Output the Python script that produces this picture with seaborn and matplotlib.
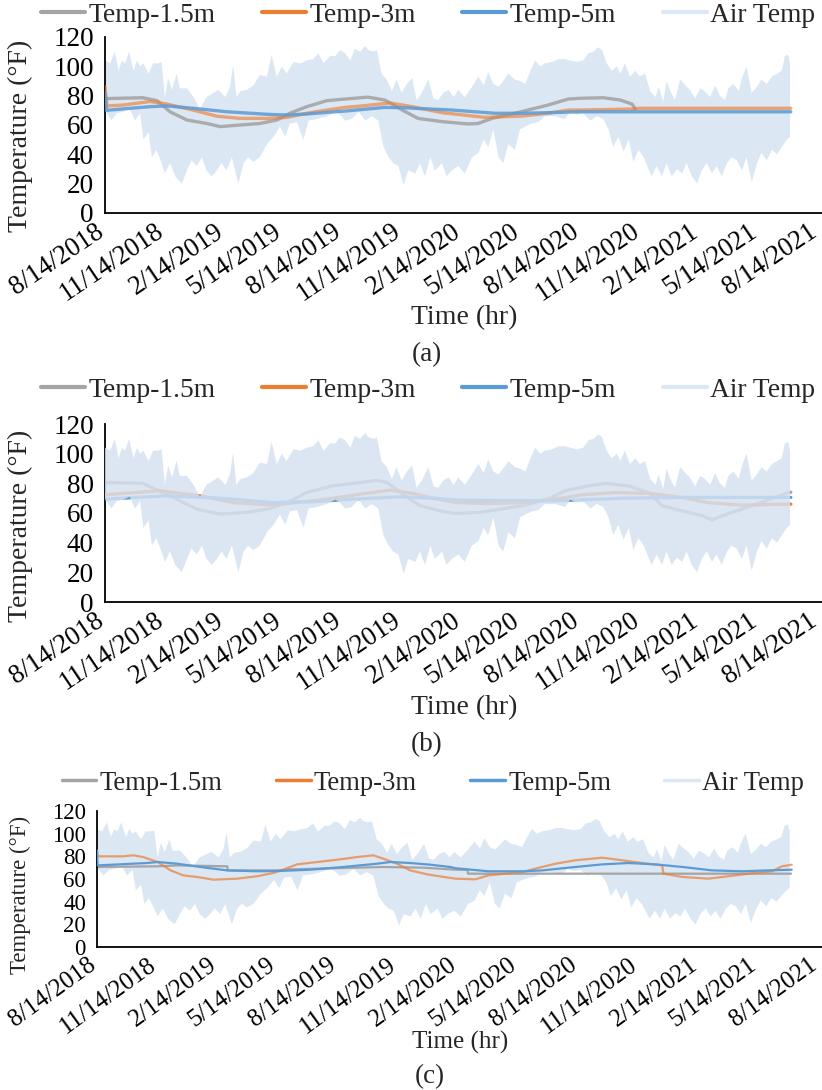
import numpy as np
import pandas as pd
import matplotlib
matplotlib.use("Agg")
import matplotlib.pyplot as plt
import matplotlib.dates as mdates
import matplotlib.font_manager as fm
from matplotlib.lines import Line2D
import seaborn as sns

# ---------------- data ----------------
START = "2018-08-14"
series_names = ["Temp-1.5m", "Temp-3m", "Temp-5m", "Air Temp"]
tick_labels = ["8/14/2018", "11/14/2018", "2/14/2019", "5/14/2019", "8/14/2019",
               "11/14/2019", "2/14/2020", "5/14/2020", "8/14/2020", "11/14/2020",
               "2/14/2021", "5/14/2021", "8/14/2021"]
y_ticks = [0, 20, 40, 60, 80, 100, 120]
panel_tags = ["(a)", "(b)", "(c)"]

# Air temperature envelope (days since 8/14/2018, degF)
air_hi_day = [0, 8, 15, 21, 26, 31, 37, 44, 49, 54, 59, 67, 74, 82, 87, 92, 97, 103, 110, 115,
              126, 131, 136, 146, 156, 167, 174, 185, 192, 197, 202, 208, 218, 228, 238, 249, 256, 264, 272, 279,
              290, 300, 310, 320, 328, 336, 346,
              354, 361, 369, 377, 384, 392, 400, 405, 413, 418, 425, 433, 441, 448, 456, 464, 472, 479, 487, 497,
              505, 512, 520, 528, 536, 543, 553, 564, 574, 582, 589, 597, 605, 612, 620, 630, 638, 646, 653, 661,
              669, 676, 687, 697, 707,
              715, 725, 735, 743, 751, 758, 764, 771, 779, 787, 792, 799, 807, 815, 822, 830, 838, 846, 851, 858,
              863, 869, 876, 884, 892, 899, 907, 915, 922, 930, 938, 945, 953, 958, 966, 974, 979, 986, 994, 1002,
              1009, 1017, 1025, 1033, 1040, 1045, 1050, 1053]
air_hi = [104, 102, 110, 97, 104, 102, 110, 97, 104, 100, 102, 95, 102, 102, 103, 79, 92, 84, 95, 85,
          85, 82, 79, 71, 79, 82, 84, 79, 86, 101, 79, 83, 84, 87, 94, 93, 108, 93, 100, 95,
          103, 102, 104, 105, 109, 102, 107,
          107, 111, 109, 104, 112, 110, 114, 111, 110, 111, 95, 91, 83, 91, 82, 88, 92, 77, 82, 91,
          78, 77, 82, 84, 79, 84, 79, 86, 93, 87, 96, 88, 86, 90, 95, 91, 90, 88, 96, 104,
          100, 102, 103, 105, 105,
          104, 103, 104, 109, 110, 113, 111, 102, 97, 100, 95, 102, 93, 97, 93, 95, 83, 79, 86, 76,
          90, 83, 77, 91, 87, 84, 78, 85, 83, 79, 87, 80, 77, 85, 88, 83, 92, 100, 82, 86,
          91, 88, 93, 95, 97, 107, 108, 102]
air_lo_day = [0, 10, 18, 28, 38, 46, 54, 59, 67, 72, 79, 87, 92, 100, 108, 118, 126, 133, 141, 149,
              156, 164, 172, 179, 187, 195, 205, 213, 220, 228, 238, 249, 259, 269, 277, 284, 295, 305, 313, 325,
              341,
              354, 361, 369, 379, 390, 400, 410, 420, 428, 436, 443, 451, 459, 466, 477, 484, 492, 500, 507, 518,
              525, 533, 543, 553, 564, 574, 582, 589, 597, 605, 612, 620, 630, 638, 646, 656, 666, 676, 692, 707,
              715, 725, 735, 746, 756, 766, 774, 781, 789, 797, 805, 812, 820, 828, 840, 848, 856, 863, 871, 879,
              887, 894, 902, 910, 917, 925, 933, 940, 948, 956, 963, 971, 979, 986, 994, 1002, 1009, 1017, 1025, 1033,
              1040, 1048, 1053]
air_lo = [70, 63, 68, 69, 71, 63, 68, 50, 55, 38, 43, 34, 27, 34, 25, 20, 29, 36, 32, 38,
          29, 25, 29, 34, 29, 38, 20, 34, 38, 35, 38, 47, 52, 59, 52, 61, 62, 50, 63, 64,
          66,
          69, 67, 63, 64, 69, 63, 66, 63, 45, 38, 34, 32, 19, 29, 27, 34, 25, 38, 29, 34,
          25, 29, 32, 27, 38, 41, 50, 45, 57, 38, 34, 47, 43, 57, 59, 61, 62, 66, 66, 64,
          69, 67, 68, 63, 66, 64, 57, 45, 52, 42, 50, 35, 43, 38, 25, 32, 25, 34, 25, 30,
          27, 34, 25, 20, 29, 34, 27, 32, 25, 34, 38, 36, 29, 38, 21, 34, 41, 36, 43, 40,
          45, 50, 52]

# Panel (a)
a15_day = [0, 58, 80, 100, 126, 157, 177, 208, 238, 264, 284, 310, 341, 369, 404, 430, 457, 481, 518, 558,
           573, 595, 630, 681, 712, 730, 766, 792, 810, 815]
a15 = [78, 78.6, 76.6, 69, 63.4, 61, 58.9, 60, 61, 63.4, 68, 72.5, 76.6, 77.7, 79, 77, 70.2, 64.5, 62.3, 60.7,
       61, 64.5, 68, 73.6, 77.7, 78.2, 78.6, 77, 74.3, 71]
a3_day = [0, 3, 28, 69, 95, 135, 172, 208, 249, 280, 310, 341, 369, 395, 438, 472, 518, 584, 641, 681,
          712, 730, 810, 822, 1054]
a3 = [86, 73, 73.6, 76, 74.3, 70.2, 66, 64.5, 64.5, 65.2, 68, 70.2, 72, 73, 75, 72.5, 68.4, 65.2, 66.1, 68,
      70.2, 70.2, 70.9, 71.4, 71.4]
a5_day = [0, 2, 69, 95, 135, 188, 249, 280, 310, 341, 369, 430, 457, 533, 600, 641, 681, 730, 1054]
a5 = [82, 70, 72.5, 73, 71.4, 69, 67.3, 66.8, 67.5, 68.6, 69.5, 72, 71.8, 70.2, 68, 68, 68.4, 69, 69]

# Panel (b)
b15_day = [0, 58, 105, 141, 177, 218, 249, 280, 310, 350, 392, 418, 434, 454, 484, 515, 538, 576, 641, 681,
           707, 743, 769, 804, 838, 856, 887, 918, 933, 949, 979, 1015, 1050, 1054]
b15 = [80.5, 80, 70.5, 62.6, 59.3, 60.4, 62.6, 67, 73.8, 78.3, 80.5, 82, 80.5, 73.8, 64.9, 61.5, 59.7, 60.4, 64.9, 69.4,
       75, 78.3, 80, 78.3, 73.2, 64.9, 61.5, 58.2, 55.3, 58.2, 62.6, 68.2, 73.8, 74]
b3_day = [0, 85, 146, 197, 249, 280, 341, 392, 438, 473, 504, 538, 589, 641, 692, 733, 784, 838, 887, 927,
          979, 1050, 1054]
b3 = [72.3, 75, 71.6, 67, 65.5, 66.4, 69.4, 72.7, 75.4, 73.2, 70, 67, 66.4, 67, 69.4, 72.3, 73.8, 73.2, 70.5, 67,
      65.3, 66, 66]
b5_day = [0, 95, 177, 258, 320, 381, 454, 504, 546, 692, 795, 896, 1054]
b5 = [69.4, 71.6, 70, 67, 67.6, 69.4, 70.9, 70, 68.6, 68.2, 70, 70.5, 70.5]

# Panel (c)
c15_day = [0, 92, 122, 198, 199, 274, 294, 435, 496, 545, 563, 564, 1055]
c15 = [70.6, 71.2, 72, 71.2, 67.6, 67.6, 68.5, 70.6, 70, 68.2, 68, 64.7, 64.7]
c3_day = [0, 1, 40, 55, 70, 92, 112, 131, 152, 177, 213, 243, 268, 283, 304, 335, 365, 396, 420, 431,
          456, 476, 502, 527, 545, 575, 595, 647, 666, 697, 727, 768, 792, 829, 859, 861, 890, 929, 959, 1000,
          1026, 1041, 1056]
c3 = [85, 80, 80, 80.9, 79.4, 75, 67.6, 63.2, 61.8, 59.4, 60.3, 62.4, 65.3, 68.2, 72.9, 75, 77, 79.4, 80.9, 78.8,
      73.5, 67.6, 64.1, 61.8, 60.3, 59.7, 63.2, 66.2, 69.1, 73.5, 76.5, 78.8, 77, 74.1, 72, 64.7, 61.8, 60.3, 62.4, 65.3,
      66.8, 71.2, 72.6]
c5_day = [0, 1, 76, 92, 122, 157, 198, 243, 274, 324, 374, 426, 446, 476, 507, 537, 545, 595, 647, 677,
          727, 768, 808, 849, 890, 935, 981, 1020, 1056]
c5 = [85, 72, 74.1, 75, 73.5, 70.6, 67.6, 66.8, 67, 68.2, 70.6, 73.5, 75, 74.1, 72.6, 70.6, 69.5, 66.8, 66.8, 67.6,
      70.6, 72.9, 74.1, 72.9, 70.6, 67.6, 66.8, 67.6, 68.2]

# ---------------- style ----------------
sns.set_theme(style="white")
_avail = {f.name for f in fm.fontManager.ttflist}
SERIF = next((n for n in ["Liberation Serif", "Times New Roman", "Nimbus Roman", "DejaVu Serif"]
              if n in _avail), "serif")
plt.rcParams["font.family"] = [SERIF, "DejaVu Serif"]
plt.rcParams["axes.unicode_minus"] = False
FAM = [SERIF, "DejaVu Serif"]

C_GRAY = "#A5A5A5"
C_ORANGE = "#ED7D31"
C_BLUE = "#5B9BD5"
C_AIR = "#DCE7F4"


def to_dates(days):
    return pd.Timestamp(START) + pd.to_timedelta(np.asarray(days, dtype=float), unit="D")


tick_dates = pd.to_datetime(tick_labels, format="%m/%d/%Y")
W, H = 822, 1090
fig = plt.figure(figsize=(W / 100, H / 100), dpi=100)


def rect(left, top, bottom, right=822):
    return [left / W, 1 - bottom / H, (right - left) / W, (bottom - top) / H]


def draw_panel(ax, series, lw, alphas, air_on_top, ytick_fs, xtick_fs, colors3, rot, xpad):
    xs = np.concatenate([mdates.date2num(to_dates(air_hi_day).values),
                         mdates.date2num(to_dates(air_lo_day).values)[::-1]])
    ys = np.concatenate([np.asarray(air_hi, float), np.asarray(air_lo, float)[::-1]])
    for (d, v), c, a, z in zip(series, colors3, alphas, [2, 3, 4]):
        sns.lineplot(x=to_dates(d), y=v, ax=ax, color=c, linewidth=lw, alpha=a,
                     estimator=None, sort=False, legend=False, zorder=z)
    if air_on_top:
        ax.fill(xs, ys, color="#D6E2F1", alpha=0.84, lw=0, zorder=6)
    else:
        ax.fill(xs, ys, color=C_AIR, lw=0, zorder=1)
    ax.set_xlim(pd.Timestamp("2018-08-14"), pd.Timestamp("2021-08-20"))
    ax.set_ylim(0, 120)
    ax.set_yticks(y_ticks)
    ax.set_yticklabels([str(t) for t in y_ticks], fontsize=ytick_fs, family=FAM)
    ax.set_xticks(tick_dates)
    ax.set_xticklabels(tick_labels, rotation=rot, ha="right", va="baseline",
                       rotation_mode="anchor", fontsize=xtick_fs, family=FAM)
    ax.set_xlabel("")
    ax.set_ylabel("")
    sns.despine(ax=ax)
    for s in ["left", "bottom"]:
        ax.spines[s].set_color("black")
        ax.spines[s].set_linewidth(1.3)
    ax.tick_params(axis="x", direction="out", length=7, width=1.2, pad=xpad, colors="black")
    ax.tick_params(axis="y", direction="out", length=5, width=1.2, pad=3, colors="black")
    ax.set_facecolor("none")


def add_legend(x, y, fs, lw, hl, cs):
    handles = [Line2D([], [], color=C_GRAY, lw=lw), Line2D([], [], color=C_ORANGE, lw=lw),
               Line2D([], [], color=C_BLUE, lw=lw), Line2D([], [], color=C_AIR, lw=lw)]
    fig.legend(handles, series_names, loc="center", bbox_to_anchor=(x / W, 1 - y / H), ncol=4,
               frameon=False, prop={"family": FAM, "size": fs}, handlelength=hl, handletextpad=0.12,
               columnspacing=cs, borderpad=0, borderaxespad=0)


def label(x, y, s, fs, rot=0):
    fig.text(x / W, 1 - y / H, s, ha="center", va="center", rotation=rot, fontsize=fs, family=FAM)


# Panel (a)
ax_a = fig.add_axes(rect(105, 37, 213))
draw_panel(ax_a, [(a15_day, a15), (a3_day, a3), (a5_day, a5)], 2.4, [0.9, 0.65, 0.85], False, 19.5, 19.2,
           [C_GRAY, C_ORANGE, C_BLUE], 34, 8.5)
add_legend(428, 15, 19.8, 3, 1.6, 1.7)
label(464, 318, "Time (hr)", 20)
label(20, 136, "Temperature (°F)", 20, 90)
label(427, 355, panel_tags[0], 19.5)

# Panel (b)
ax_b = fig.add_axes(rect(105, 424, 602))
draw_panel(ax_b, [(b15_day, b15), (b3_day, b3), (b5_day, b5)], 2.4, [1, 1, 1], True, 19.5, 19.2,
           [C_GRAY, C_ORANGE, C_BLUE], 34, 8.5)
add_legend(428, 390, 19.8, 3, 1.6, 1.7)
label(464, 708, "Time (hr)", 20)
label(20, 526, "Temperature (°F)", 20, 90)
label(427, 745, panel_tags[1], 19.5)

# Panel (c)
ax_c = fig.add_axes(rect(97, 811, 947))
draw_panel(ax_c, [(c15_day, c15), (c3_day, c3), (c5_day, c5)], 1.6, [1, 0.7, 1], False, 16.5, 18,
           [C_GRAY, C_ORANGE, C_BLUE], 36, 8)
add_legend(433, 783, 19.2, 2.5, 1.3, 2.0)
label(460, 1042, "Time (hr)", 18)
label(20, 895, "Temperature (°F)", 16.5, 90)
label(430, 1077, panel_tags[2], 19.5)

fig.savefig("out.png", dpi=100, facecolor="white")
